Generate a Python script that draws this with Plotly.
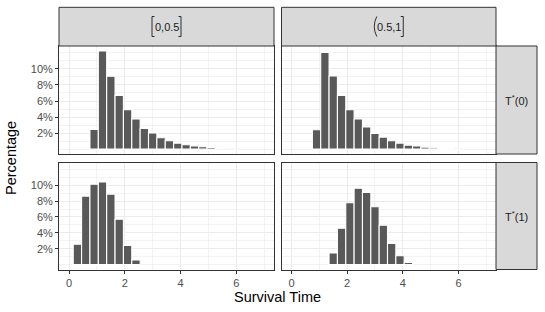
import plotly.graph_objects as go

# ---- data (percent of observations per bin) ----
top_centers = [0.9, 1.2, 1.5, 1.8, 2.1, 2.4, 2.7, 3.0, 3.3, 3.6, 3.9, 4.2, 4.5, 4.8, 5.1, 5.4, 5.7, 6.0]
top_left_pct = [2.46, 12.25, 9.08, 6.70, 4.90, 3.75, 2.58, 2.00, 1.42, 1.04, 0.75, 0.54, 0.40, 0.29, 0.20, 0.10, 0.06, 0.03]
top_right_pct = [2.42, 12.04, 9.12, 6.70, 4.90, 3.75, 2.75, 1.96, 1.50, 1.04, 0.75, 0.50, 0.38, 0.25, 0.17, 0.10, 0.06, 0.03]

bottom_left_centers = [0.3, 0.6, 0.9, 1.2, 1.5, 1.8, 2.1, 2.4]
bottom_left_pct = [2.58, 8.63, 10.13, 10.42, 8.88, 5.71, 2.42, 0.58]

bottom_right_centers = [1.5, 1.8, 2.1, 2.4, 2.7, 3.0, 3.3, 3.6, 3.9, 4.2]
bottom_right_pct = [1.46, 4.58, 7.79, 9.63, 9.08, 7.29, 4.96, 2.67, 1.13, 0.29]

bin_width = 0.3
col_inner = ["0,0.5", "0.5,1"]          # interval labels (brackets drawn around them)
col_open = ["[", "("]
col_close = ["]", "]"]
row_labels = ["T<sup>*</sup>(0)", "T<sup>*</sup>(1)"]
x_ticks = [0, 2, 4, 6]
x_tick_text = ["0", "2", "4", "6"]
y_ticks = [2, 4, 6, 8, 10]
y_tick_text = ["2%", "4%", "6%", "8%", "10%"]
x_title = "Survival Time"
y_title = "Percentage"

# ---- layout geometry (pixels) ----
W, H = 545, 312
def px_x(p):
    return p / W
def px_y(p):
    return 1 - p / H

col_px = [[59, 274], [281.5, 496]]
col_dom = [[px_x(a), px_x(b)] for a, b in col_px]
row_dom = [[px_y(154), px_y(46)], [px_y(269.5), px_y(162.5)]]

panels = [
    (top_centers, top_left_pct, 0, 0),
    (top_centers, top_right_pct, 0, 1),
    (bottom_left_centers, bottom_left_pct, 1, 0),
    (bottom_right_centers, bottom_right_pct, 1, 1),
]

FONT = "Liberation Sans, Arial, sans-serif"
fig = go.Figure()
layout = dict(
    width=W, height=H, autosize=False,
    margin=dict(l=0, r=0, t=0, b=0),
    paper_bgcolor="white", plot_bgcolor="white",
    showlegend=False, bargap=0,
    font=dict(family=FONT, color="#4d4d4d"),
)

grid = "#ebebeb"
border = "#333333"
tickfont = dict(size=11, color="#4d4d4d", family=FONT)

for i, (xs, ys, r, c) in enumerate(panels):
    n = i + 1
    xa = "x" if n == 1 else f"x{n}"
    ya = "y" if n == 1 else f"y{n}"
    fig.add_trace(go.Bar(
        x=xs, y=ys, width=bin_width, xaxis=xa, yaxis=ya,
        marker=dict(color="#595959", line=dict(color="white", width=1.1)),
        hoverinfo="skip",
    ))
    xkey = "xaxis" if n == 1 else f"xaxis{n}"
    ykey = "yaxis" if n == 1 else f"yaxis{n}"
    bottom = (r == 1)
    left = (c == 0)
    layout[xkey] = dict(
        domain=col_dom[c], anchor=ya, range=[-0.36, 7.35],
        tickmode="array", tickvals=x_ticks, ticktext=x_tick_text,
        showticklabels=bottom, ticks="outside" if bottom else "",
        ticklen=3, tickwidth=1, tickcolor=border, tickfont=tickfont,
        showline=True, mirror=True, linecolor=border, linewidth=1,
        showgrid=True, gridcolor=grid, gridwidth=1, zeroline=False,
        minor=dict(tickmode="array", tickvals=[1, 3, 5, 7], showgrid=True,
                   gridcolor=grid, gridwidth=0.6, ticks=""),
        fixedrange=True,
    )
    layout[ykey] = dict(
        domain=row_dom[r], anchor=xa, range=[-0.61, 12.86],
        tickmode="array", tickvals=y_ticks, ticktext=y_tick_text,
        showticklabels=left, ticks="outside" if left else "",
        ticklen=3, tickwidth=1, tickcolor=border, tickfont=tickfont,
        showline=True, mirror=True, linecolor=border, linewidth=1,
        showgrid=True, gridcolor=grid, gridwidth=1, zeroline=False,
        minor=dict(tickmode="array", tickvals=[0, 1, 3, 5, 7, 9, 11, 12], showgrid=True,
                   gridcolor=grid, gridwidth=0.6, ticks=""),
        fixedrange=True,
    )

shapes = []
annotations = []
strip_fill = "#d9d9d9"
txt_col = "#1a1a1a"
br_top, br_bot, br_mid = 16.5, 36.5, 26.5
# top strips
for c in range(2):
    shapes.append(dict(type="rect", xref="paper", yref="paper",
                       x0=col_dom[c][0], x1=col_dom[c][1],
                       y0=px_y(46), y1=px_y(7.3),
                       fillcolor=strip_fill, line=dict(color=border, width=1), layer="above"))
    cx = (col_px[c][0] + col_px[c][1]) / 2
    annotations.append(dict(xref="paper", yref="paper",
                            x=px_x(cx), y=px_y(br_mid),
                            text=col_inner[c], showarrow=False,
                            xanchor="center", yanchor="middle",
                            font=dict(size=11, color=txt_col, family=FONT)))
    half = 14.5
    # opening delimiter
    lx = cx - half
    if col_open[c] == "[":
        p = (f"M {px_x(lx + 2.5)} {px_y(br_top)} L {px_x(lx)} {px_y(br_top)} "
             f"L {px_x(lx)} {px_y(br_bot)} L {px_x(lx + 2.5)} {px_y(br_bot)}")
    else:
        p = (f"M {px_x(lx + 2.5)} {px_y(br_top)} Q {px_x(lx - 2.5)} {px_y(br_mid)} "
             f"{px_x(lx + 2.5)} {px_y(br_bot)}")
    shapes.append(dict(type="path", xref="paper", yref="paper", path=p,
                       line=dict(color=txt_col, width=0.9), layer="above"))
    rx = cx + half
    if col_close[c] == "]":
        p = (f"M {px_x(rx - 2.5)} {px_y(br_top)} L {px_x(rx)} {px_y(br_top)} "
             f"L {px_x(rx)} {px_y(br_bot)} L {px_x(rx - 2.5)} {px_y(br_bot)}")
    else:
        p = (f"M {px_x(rx - 2.5)} {px_y(br_top)} Q {px_x(rx + 2.5)} {px_y(br_mid)} "
             f"{px_x(rx - 2.5)} {px_y(br_bot)}")
    shapes.append(dict(type="path", xref="paper", yref="paper", path=p,
                       line=dict(color=txt_col, width=0.9), layer="above"))
# right strips
for r in range(2):
    shapes.append(dict(type="rect", xref="paper", yref="paper",
                       x0=px_x(496), x1=px_x(537),
                       y0=row_dom[r][0], y1=row_dom[r][1],
                       fillcolor=strip_fill, line=dict(color=border, width=1), layer="above"))
    annotations.append(dict(xref="paper", yref="paper",
                            x=px_x(516.5), y=(row_dom[r][0] + row_dom[r][1]) / 2,
                            text=row_labels[r], showarrow=False,
                            xanchor="center", yanchor="middle",
                            font=dict(size=11, color=txt_col, family=FONT)))

annotations.append(dict(xref="paper", yref="paper", x=px_x(277.5), y=px_y(297),
                        text=x_title, showarrow=False, xanchor="center", yanchor="middle",
                        font=dict(size=14.5, color="black", family=FONT)))
annotations.append(dict(xref="paper", yref="paper", x=px_x(11), y=px_y(158),
                        text=y_title, showarrow=False, xanchor="center", yanchor="middle",
                        textangle=-90, font=dict(size=14.5, color="black", family=FONT)))

layout["shapes"] = shapes
layout["annotations"] = annotations
fig.update_layout(**layout)
fig.write_html("out.html", config={"displayModeBar": False, "staticPlot": True},
               post_script="document.body.style.margin='0px';document.body.style.padding='0px';document.body.style.overflow='hidden';")
